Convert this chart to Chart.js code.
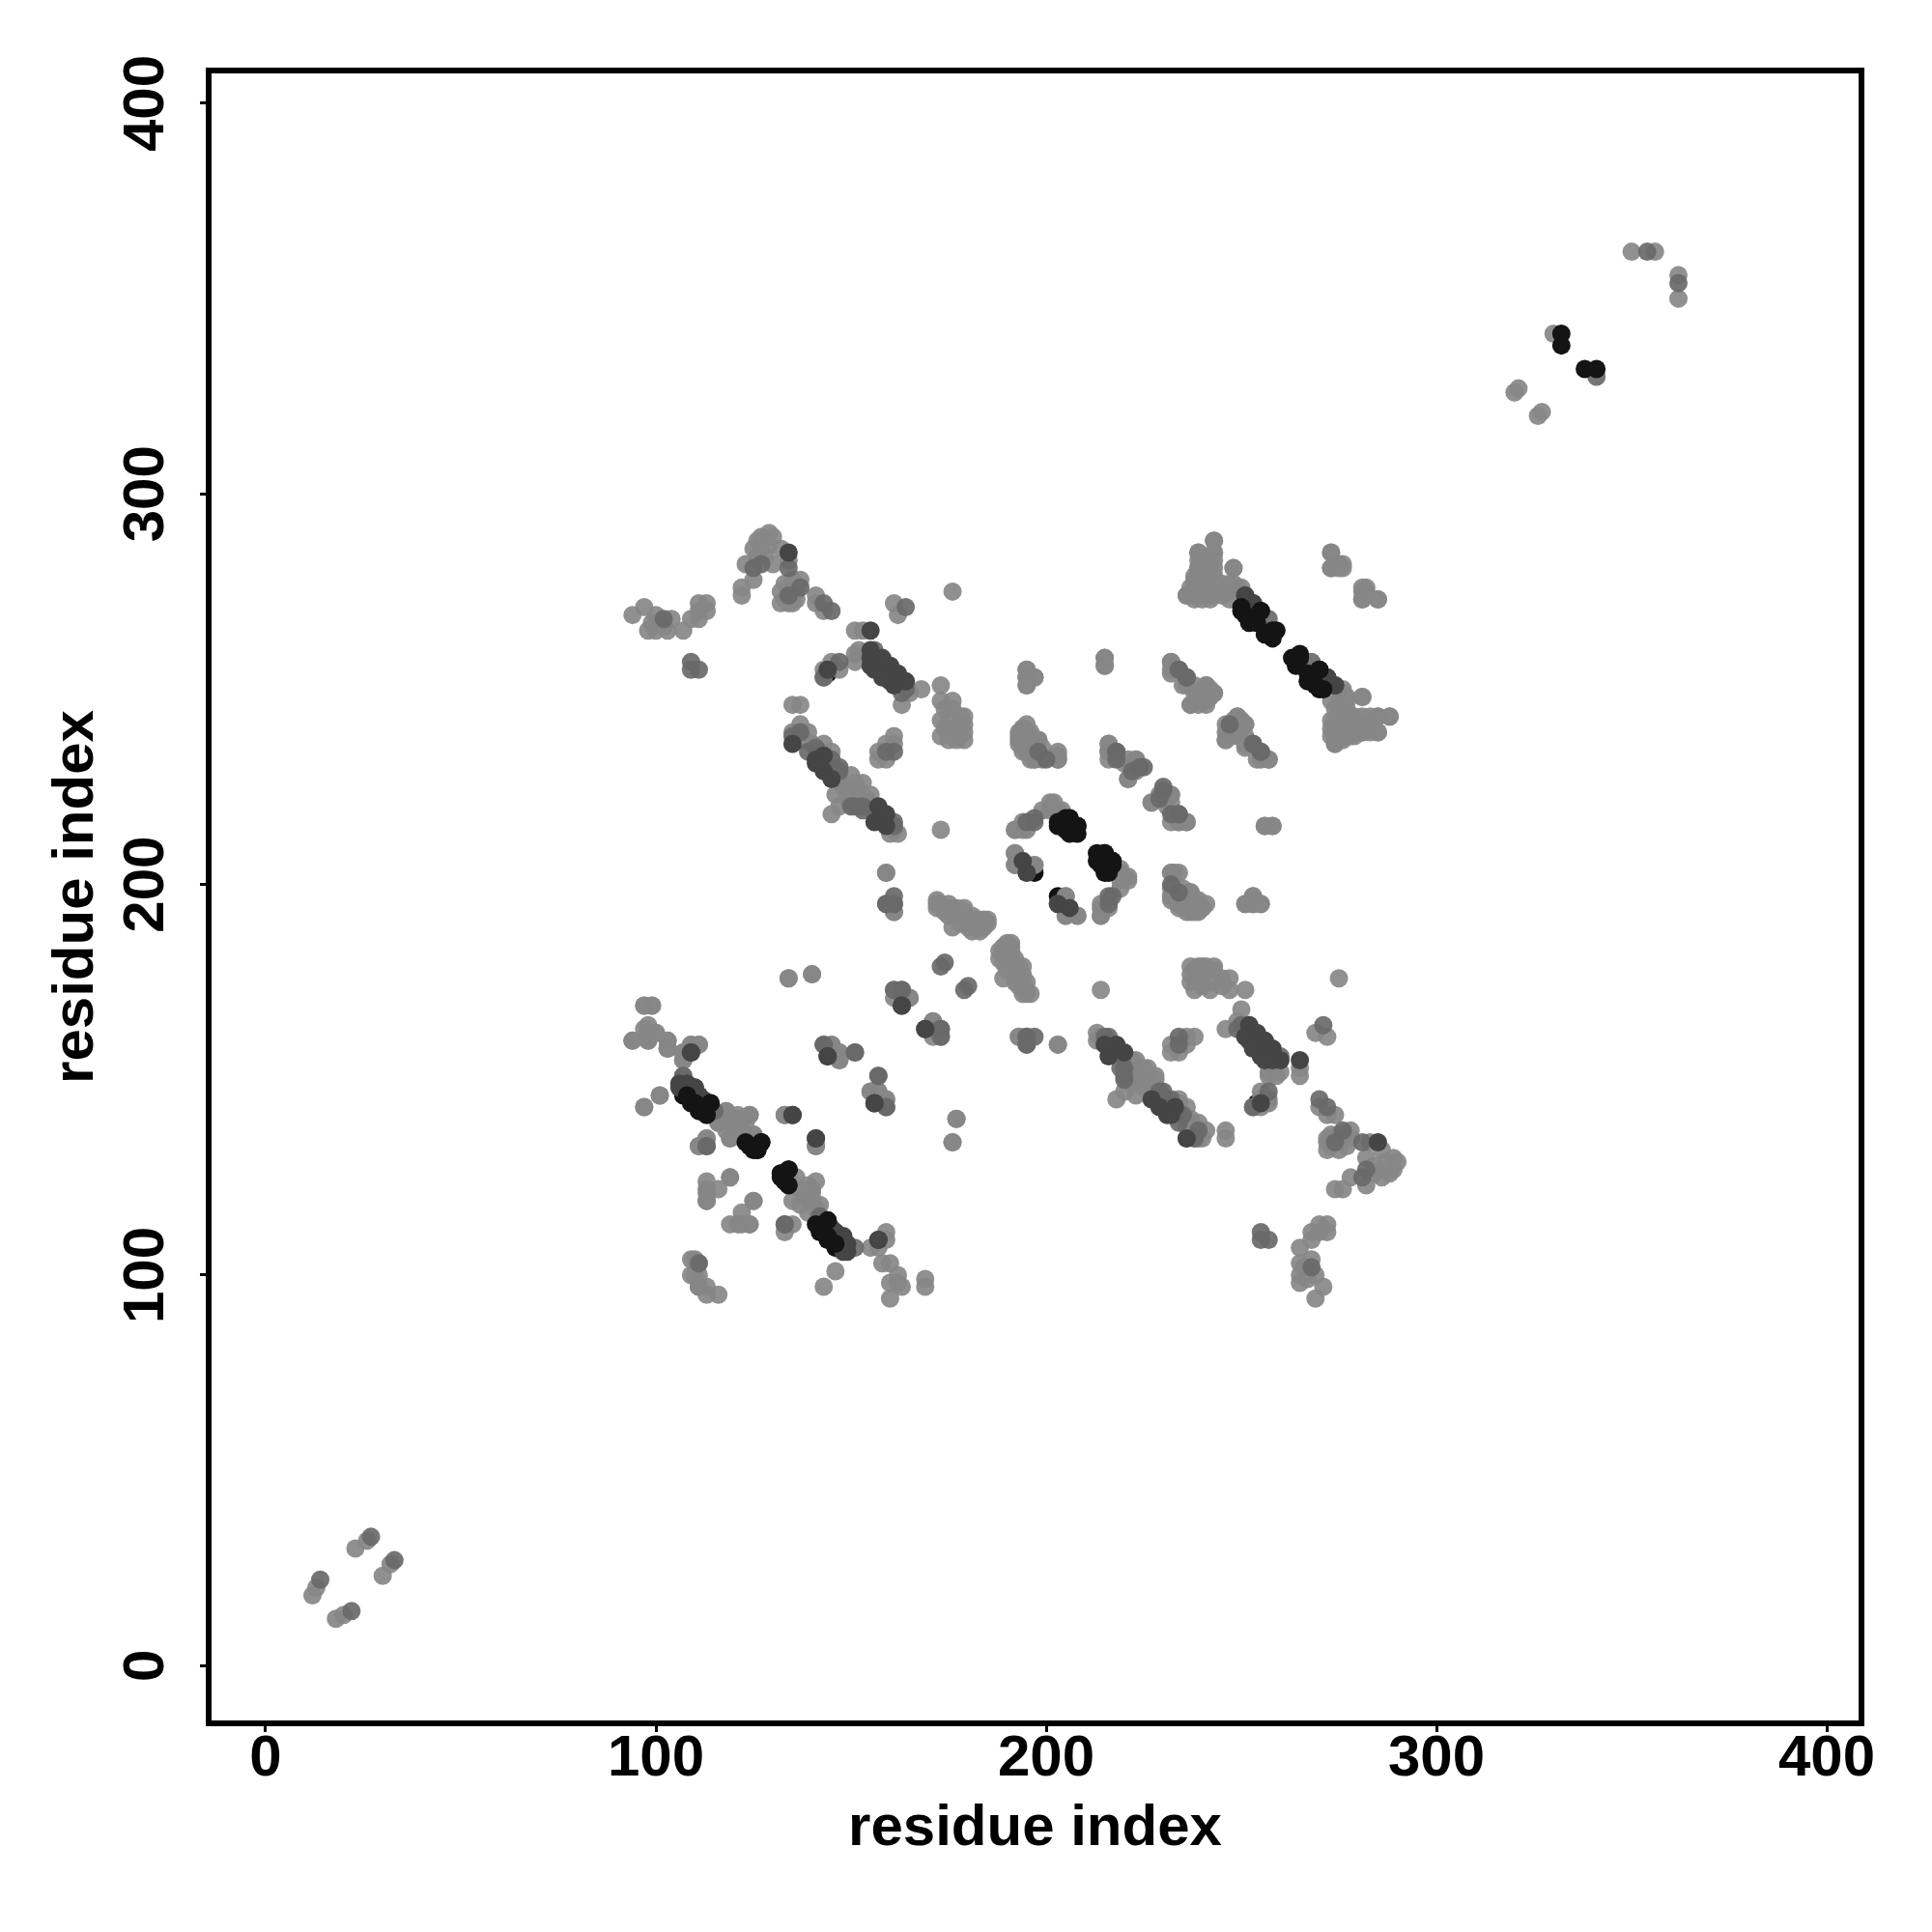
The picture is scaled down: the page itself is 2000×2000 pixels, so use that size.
<!DOCTYPE html>
<html>
<head>
<meta charset="utf-8">
<title>residue contact map</title>
<script src="https://cdn.jsdelivr.net/npm/chart.js@4"></script>
<style>
  html, body { margin: 0; background: #fff; }
  canvas { display: block; }
</style>
</head>
<body>
<canvas id="contactMap" width="2000" height="2000"></canvas>
<script>
const tickValues = [0, 100, 200, 300, 400];
const axisTitle = 'residue index';

// contacts, [residue x, residue y], grouped by grey level
const underPoints = [
  [197,203],[203,197],[144,254],[254,144],[107,146],[146,107],[250,270],[270,250]
];
const lightUpper = [
  [94,269],[97,271],[98,265],[99,267],[104,268],[103,265],[107,265],[109,268],[111,268],[111,270],[113,272],[111,272],[113,270],
  [122,274],[122,276],[123,282],[125,278],[125,286],[127,289],[129,290],[130,289],[127,286],[130,282],[132,286],[134,283],[137,278],[135,278],[132,275],[132,272],[134,272],[135,272],[141,274],[141,272],[143,270],
  [161,272],[162,269],[176,275],[151,265],[153,265],[143,253],[143,255],[145,257],[147,255],[151,259],[151,257],[152,260],[163,246],[165,249],[168,250],[173,251],[173,247],[176,247],[173,242],[173,238],[175,243],[175,237],[179,243],[179,241],[179,239],[179,237],[177,237],
  [135,246],[137,246],[135,239],[137,241],[139,239],[143,236],[145,234],[150,228],[153,226],[155,223],[146,223],[147,220],[145,218],[149,222],[162,213],[160,213],[173,214],[159,203],[161,193],[161,238],[161,236],[159,236],[157,234],[157,232],[159,232],
  [195,255],[195,251],[197,253],[195,253],[194,240],[193,238],[193,236],[196,238],[198,237],[196,232],[203,233],[203,232],[197,232],
  [215,258],[215,256],[232,257],[232,255],[236,251],[238,251],[241,251],[243,249],[237,246],[239,246],[241,246],[239,248],[243,288],[239,285],[243,285],[239,281],[241,281],[248,281],[243,281],[238,277],[241,278],[238,273],[242,273],[241,275],[247,273],[248,277],[250,276],[236,274],
  [256,265],[276,249],[281,248],[277,247],[274,242],[276,240],[274,238],[274,236],[278,240],[279,243],[283,243],[285,243],[288,243],[285,239],[281,239],[278,238],[273,285],[273,281],[276,282],[275,281],[281,276],[281,273],[285,273],[282,275],
  [249,243],[251,241],[248,239],[246,237],[251,235],[254,232],[257,232],[216,236],[216,234],[221,232],[223,232],[221,227],[223,229],[227,221],[232,223],[231,220],[232,216],[234,216],[236,216],[256,215],[258,215],[253,197],[251,195],[253,195],[255,195],[232,203],[234,203],[232,199],[232,197],[234,197],[237,198],[239,196],[240,194],[237,193],[239,193],[234,195],[201,221],[203,219],[192,214],[194,214],[199,219],[219,204],[221,202],[219,201],[214,195],[214,192],[216,194],[192,208],[192,205],[197,205],[195,203],[205,197],[205,192],[208,192],[205,194],
  [97,169],[99,169],[97,163],[94,160],[98,162],[98,160],[100,162],[103,160],[103,158],[107,155],[107,157],[109,159],[111,159],[101,146],[97,143],[118,142],[121,140],[124,141],[122,140],[116,139],[122,137],[125,136],[133,141],[141,133],[111,133],[113,135],[119,135],[113,124],[119,125],[116,122],[113,121],[113,119],[125,119],
  [134,176],[140,177],[145,159],[147,155],[147,157],[155,147],[157,147],[159,145],[165,171],[161,171],[171,165],[173,161],[171,163],[177,140],[176,134],
  [172,196],[174,194],[179,193],[184,191],[176,189],[181,188],[183,188],[172,194],[182,191],[193,161],[203,159],
  [350,362],[356,362],[330,341],[320,326],[321,327],[12,18],[13,20],[23,30],[26,32]
];
const denseLightUpper = [
  [172,195],[173,195],[175,195],[174,193],[176,194],[177,194],[179,194],[177,192],[179,191],[181,192],[183,191],[185,191],[178,190],[180,189],[182,189],[184,189],[185,190],[175,192],
  [138,237],[140,236],[142,234],[144,232],[151,226],[152,224],[154,222],[153,223],[148,225],[150,223],[147,227],[149,225],[152,221],[155,220],[160,215],[161,214],
  [174,245],[175,240],[176,245],[177,240],[178,243],[178,238],[174,240],[176,238],
  [239,277],[240,275],[243,277],[240,279],[244,275],[245,274],[246,276],[242,279],[237,276],[240,273],[245,277],
  [276,245],[275,247],[278,243],[276,243],[280,241],[275,240],[277,239],[279,238],[282,240],[283,239],
  [195,236],[197,236],[199,235],[195,234],[194,234],
  [235,196],[236,197],[237,195],[238,194],[236,194],[241,195],
  [238,249],[240,250],[242,248],[238,247],[248,241],[250,242],[247,239],[249,240],
  [128,284],[129,287],[126,284],[126,288],[136,273],[136,275],[133,273],[135,275],[133,277],[100,265],[100,269],[102,266],
  [117,141],[119,140],[120,138],[123,139],[118,137]
];
const lightLower = [
  [269,94],[271,97],[265,98],[267,99],[268,104],[265,103],[265,107],[268,109],[268,111],[270,111],[272,113],[272,111],[270,113],
  [274,122],[276,122],[282,123],[278,125],[286,125],[289,127],[290,129],[289,130],[286,127],[282,130],[286,132],[283,134],[278,137],[278,135],[275,132],[272,132],[272,134],[272,135],[274,141],[272,141],[270,143],
  [272,161],[269,162],[275,176],[265,151],[265,153],[253,143],[255,143],[257,145],[255,147],[259,151],[257,151],[260,152],[246,163],[249,165],[250,168],[251,173],[247,173],[247,176],[242,173],[238,173],[243,175],[237,175],[243,179],[241,179],[239,179],[237,179],[237,177],
  [246,135],[246,137],[239,135],[241,137],[239,139],[236,143],[234,145],[228,150],[226,153],[223,155],[223,146],[220,147],[218,145],[222,149],[213,162],[213,160],[214,173],[203,159],[193,161],[238,161],[236,161],[236,159],[234,157],[232,157],[232,159],
  [255,195],[251,195],[253,197],[253,195],[240,194],[238,193],[236,193],[238,196],[237,198],[232,196],[233,203],[232,203],[232,197],
  [258,215],[256,215],[257,232],[255,232],[251,236],[251,238],[251,241],[249,243],[246,237],[246,239],[246,241],[248,239],[288,243],[285,239],[285,243],[281,239],[281,241],[281,248],[281,243],[277,238],[278,241],[273,238],[273,242],[275,241],[273,247],[277,248],[276,250],[274,236],
  [265,256],[249,276],[248,281],[247,277],[242,274],[240,276],[238,274],[236,274],[240,278],[243,279],[243,283],[243,285],[243,288],[239,285],[239,281],[238,278],[285,273],[281,273],[282,276],[281,275],[276,281],[273,281],[273,285],[275,282],
  [243,249],[241,251],[239,248],[237,246],[235,251],[232,254],[232,257],[236,216],[234,216],[232,221],[232,223],[227,221],[229,223],[221,227],[223,232],[220,231],[216,232],[216,234],[216,236],[215,256],[215,258],[197,253],[195,251],[195,253],[195,255],[203,232],[203,234],[199,232],[197,232],[197,234],[198,237],[196,239],[194,240],[193,237],[193,239],[195,234],[221,201],[219,203],[214,192],[214,194],[219,199],[204,219],[202,221],[201,219],[195,214],[192,214],[194,216],[208,192],[205,192],[205,197],[203,195],[197,205],[192,205],[192,208],[194,205],
  [169,97],[169,99],[163,97],[160,94],[162,98],[160,98],[162,100],[160,103],[158,103],[155,107],[157,107],[159,109],[159,111],[146,101],[143,97],[142,118],[140,121],[141,124],[140,122],[139,116],[137,122],[136,125],[141,133],[133,141],[133,111],[135,113],[135,119],[124,113],[125,119],[122,116],[121,113],[119,113],[119,125],
  [116,95],[113,95],[113,97],[111,97],[111,100],[109,100],[109,104],[122,113],[124,113],[113,122],[113,119],[111,97],[110,100],[111,103],[110,104],[111,133],[113,135],[125,136],[123,136],[119,135],[124,141],[121,141],[118,142],[121,138],[116,139],[107,155],[111,159],[109,159],[107,157],[101,146],[97,143],[103,158],[103,160],[100,162],[98,160],[98,162],[98,164],[94,160],[99,169],[97,169],
  [176,134],[177,140],[159,145],[155,147],[157,147],[147,155],[147,157],[145,159],[171,165],[171,161],[165,171],[161,173],[163,171],[140,177],[134,176],
  [196,172],[194,174],[193,179],[191,184],[189,176],[188,181],[188,183],[194,172],[191,182],[161,193],[159,203],
  [362,350],[362,356],[326,320],[327,321],[18,12],[20,13],[30,23],[32,26]
];
const denseLightLower = [
  [195,172],[195,173],[195,175],[193,174],[194,176],[194,177],[194,179],[192,177],[191,179],[192,181],[191,183],[191,185],[190,178],[189,180],[189,182],[189,184],[190,185],[192,175],
  [237,138],[236,140],[234,142],[232,144],[226,151],[224,152],[222,154],[223,153],[225,148],[223,150],[227,147],[225,149],[221,152],[220,155],[215,160],[214,161],
  [245,174],[240,175],[245,176],[240,177],[243,178],[238,178],[240,174],[238,176],
  [277,239],[275,240],[277,243],[279,240],[275,244],[274,245],[276,246],[279,242],[276,237],[273,240],[277,245],
  [245,276],[247,275],[243,278],[243,276],[241,280],[240,275],[239,277],[238,279],[240,282],[239,283],
  [236,195],[236,197],[235,199],[234,195],[234,194],
  [196,235],[197,236],[195,237],[194,238],[194,236],[195,241],
  [249,238],[250,240],[248,242],[247,238],[241,248],[242,250],[239,247],[240,249],[241,247],
  [284,128],[287,129],[284,126],[288,126],[273,136],[275,136],[273,133],[275,135],[277,133],[265,100],[269,100],[266,102],
  [141,117],[140,119],[138,120],[139,123],[137,118],
  [222,155],[225,153],[228,151],[234,144],[237,140],[236,138],[236,135],[240,135],[238,135],[257,152],[255,145],[257,144],[238,178],[240,179]
];
const midUpper = [
  [102,268],[109,257],[109,255],[111,255],[125,281],[127,282],[134,281],[137,276],[134,274],[143,272],[145,270],[164,271],[147,257],[163,249],[164,252],
  [135,238],[137,239],[139,234],[141,235],[145,230],[147,230],[153,220],[150,220],[161,216],[159,195],[161,195],[161,234],[159,234],[198,234],[200,232],[234,255],[236,253],
  [257,268],[247,241],[253,236],[255,234],[218,234],[218,232],[234,218],[197,217],[195,216],[216,197],[107,151],[115,142],[113,133],
  [143,159],[151,157],[157,151],[159,143],[161,173],[163,173],[173,163],[174,180],[173,179],[195,161],[197,161],[195,159],
  [354,362],[14,22],[27,33],[224,230],[230,225],[229,222],[145,232],[144,229],
  [161,215],[151,220],[153,219],[147,229],[164,250],[160,256],[156,260],[143,253]
];
const midLower = [
  [268,102],[257,109],[255,109],[255,111],[281,125],[282,127],[281,134],[276,137],[274,134],[272,143],[270,145],[271,164],[257,147],[249,163],[252,164],
  [238,135],[239,137],[234,139],[235,141],[230,145],[230,147],[220,153],[220,150],[216,161],[195,159],[195,161],[234,161],[234,159],[234,198],[232,200],[255,234],[253,236],
  [268,257],[236,253],[234,255],[234,218],[232,218],[218,234],[217,197],[216,195],[197,216],[151,107],[142,115],[133,113],
  [159,143],[157,151],[151,157],[143,159],[173,161],[173,163],[163,173],[180,174],[179,173],[161,195],[161,197],[159,195],
  [362,354],[341,330],[22,14],[33,27],[230,224],[225,230],[222,229],[110,148],[107,151],[113,133],[111,103],[133,113],[232,145],[229,144],
  [215,161],[220,151],[219,153],[229,147],[250,164],[256,160],[260,156],[253,143]
];
const darkPoints = [
  [134,285],[155,265],[155,260],[155,258],[156,255],[160,256],[160,252],[157,220],[158,254],[162,254],[158,258],[143,229],[141,232],[143,233],[135,236],[145,227],[251,274],[253,272],[272,253],[274,251],[194,206],[203,195],[216,206],[109,157],[106,149],[110,148],[111,146],[135,141],[141,135],[142,112],[146,111],[148,106],[157,109],[156,144],[144,156],[163,169],[169,163],
  [159,218],[156,216],[159,215],[141,231],[164,252],[161,251],[158,253],[155,256],[144,255],[112,143],[112,145],[109,147],[108,149],
  [285,134],[265,155],[260,155],[258,155],[255,156],[256,160],[252,160],[220,157],[254,158],[254,162],[258,158],[229,143],[232,141],[233,143],[236,135],[227,145],[274,251],[272,253],[253,272],[251,274],[206,194],[195,203],[206,216],[157,109],[149,106],[148,110],[146,111],[141,135],[135,141],[112,142],[111,146],[106,148],[109,157],[144,156],[156,144],[169,163],[163,169],
  [218,159],[216,156],[215,159],[231,141],[252,164],[251,161],[253,158],[256,155],[255,144],[143,112],[145,112],[147,109],[149,108]
];
const blackPoints = [
  [205,217],[203,216],[206,217],[208,215],[205,214],[208,213],[215,208],[213,206],[217,206],[215,203],[257,264],[259,265],[258,263],[252,267],[255,270],[265,258],[264,256],[267,254],[269,251],[271,250],[270,255],[127,134],[123,134],[124,133],[126,132],[114,144],[109,144],[111,142],[113,141],[132,126],[134,127],[132,125],[144,114],[144,110],[146,108],[332,341],[332,338],
  [217,205],[216,203],[217,206],[215,208],[214,205],[213,208],[208,215],[206,213],[206,217],[203,215],[264,257],[265,259],[263,258],[267,252],[270,255],[258,265],[256,264],[254,267],[251,269],[250,271],[255,270],[134,127],[134,123],[133,124],[132,126],[144,114],[144,109],[142,111],[141,113],[126,132],[127,134],[125,132],[114,144],[110,144],[108,146],[341,332],[338,332]
];

const toXY = pts => pts.map(p => ({ x: p[0], y: p[1] }));
const layer = (pts, color, order) => ({
  data: toXY(pts),
  backgroundColor: color,
  borderWidth: 0,
  pointRadius: 9.5,
  pointHoverRadius: 9.5,
  order: order
});

// scale border only gives left and bottom, so the box is stroked here
const boxBorder = {
  id: 'boxBorder',
  afterDatasetsDraw(chart) {
    const { ctx, chartArea: a } = chart;
    ctx.save();
    ctx.strokeStyle = '#000';
    ctx.lineWidth = 6;
    ctx.strokeRect(a.left, a.top, a.right - a.left, a.bottom - a.top);
    ctx.restore();
  }
};

const LIGHT = 'rgba(135,135,135,0.92)';
const MID = 'rgba(105,105,105,0.92)';
const labelFont = { family: '"Liberation Sans", Arial, sans-serif', size: 60, weight: 'bold', lineHeight: 1 };
const axisGrid = { drawOnChartArea: false, drawTicks: true, tickLength: 9, tickWidth: 3, tickColor: '#000' };
const setTicks = scale => { scale.ticks = tickValues.map(v => ({ value: v, label: String(v) })); };

new Chart(document.getElementById('contactMap').getContext('2d'), {
  type: 'scatter',
  data: {
    datasets: [
      layer(blackPoints, '#141414', 0),
      layer(darkPoints, '#454545', 1),
      layer(midUpper, MID, 2),
      layer(midLower, MID, 2),
      layer(lightUpper, LIGHT, 3),
      layer(lightLower, LIGHT, 3),
      layer(denseLightUpper, LIGHT, 4),
      layer(denseLightLower, LIGHT, 4),
      layer(underPoints, '#111111', 5)
    ]
  },
  options: {
    responsive: false,
    animation: false,
    devicePixelRatio: 1,
    layout: { padding: { top: 73, right: 73, left: 0, bottom: 0 } },
    plugins: { legend: { display: false }, tooltip: { enabled: false } },
    events: [],
    scales: {
      x: {
        type: 'linear',
        min: -14.6,
        max: 408.9,
        afterBuildTicks: setTicks,
        afterFit: s => { s.height = 216; },
        border: { display: false },
        grid: axisGrid,
        ticks: { color: '#000', font: labelFont, padding: -2, maxRotation: 0, autoSkip: false },
        title: { display: true, text: axisTitle, color: '#000', font: labelFont, padding: { top: 0, bottom: 77 } }
      },
      y: {
        type: 'linear',
        min: -14.77,
        max: 408.4,
        afterBuildTicks: setTicks,
        afterFit: s => { s.width = 216; },
        border: { display: false },
        grid: axisGrid,
        ticks: { color: '#000', font: labelFont, padding: 4, crossAlign: 'center', minRotation: 90, maxRotation: 90, autoSkip: false },
        title: { display: true, text: axisTitle, color: '#000', font: labelFont, padding: { top: 49, bottom: 0 } }
      }
    }
  },
  plugins: [boxBorder]
});
</script>
</body>
</html>
